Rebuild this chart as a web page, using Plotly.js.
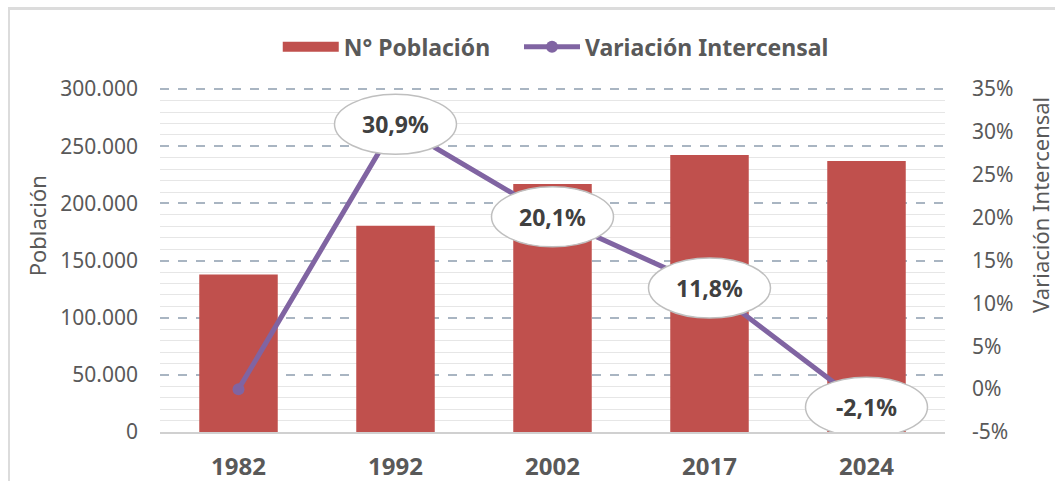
<!DOCTYPE html>
<html>
<head>
<meta charset="utf-8">
<script src="https://cdn.plot.ly/plotly-3.0.1.min.js"></script>
<style>
  html, body { margin: 0; padding: 0; background: #fff; }
  #wrap { position: relative; width: 1055px; height: 481px; overflow: hidden; }
  #frame { position: absolute; top: 7px; left: 8px; width: 1100px; height: 500px;
           border-top: 3px solid #dcdcdc; border-left: 2px solid #dcdcdc; pointer-events: none; }
</style>
</head>
<body>
<div id="wrap">
  <div id="plot" style="width:1055px;height:481px;"></div>
  <div id="frame"></div>
</div>
<script>
// census years
var years = ["1982", "1992", "2002", "2017", "2024"];
// population per census
var poblacion = [137800, 180500, 217100, 242400, 237200];
// intercensal variation (%)
var variacion = [0, 30.9, 20.1, 11.8, -2.1];
// which points get a label bubble
var labelIdx = [1, 2, 3, 4];
// right axis ticks (plain hyphen for the negative one, as in the original)
var pctTicks = [-5, 0, 5, 10, 15, 20, 25, 30, 35];
var pctTickText = pctTicks.map(function (v) { return v + "%"; });

var red = "#c0504d";
var purple = "#8064a2";
var grey = "#595959";

var barTrace = {
  type: "bar",
  x: years,
  y: poblacion,
  name: "N° Población",
  marker: { color: red },
  showlegend: false,
  hoverinfo: "x+y"
};

// legend-only entry so the swatch is a wide rectangle like the original
// (trailing nbsp widen the gap to the next legend item)
var barLegend = {
  type: "scatter",
  mode: "lines",
  x: [null],
  y: [null],
  name: "N° Población\u00a0\u00a0\u00a0\u00a0",
  line: { color: red, width: 14 },
  hoverinfo: "skip"
};

var lineTrace = {
  type: "scatter",
  mode: "lines+markers",
  x: years,
  y: variacion,
  yaxis: "y2",
  name: "Variación Intercensal",
  line: { color: purple, width: 5 },
  marker: { color: purple, size: 12 }
};

var shapes = [];
var annotations = [];
labelIdx.forEach(function (i) {
  shapes.push({
    type: "circle",
    xref: "x", yref: "y2",
    xsizemode: "pixel", ysizemode: "pixel",
    xanchor: i, yanchor: variacion[i],
    x0: -61, x1: 61, y0: -30, y1: 30,
    fillcolor: "#ffffff",
    line: { color: "#bfbfbf", width: 1.5 },
    layer: "above"
  });
  annotations.push({
    x: i, y: variacion[i], xref: "x", yref: "y2",
    text: variacion[i].toFixed(1).replace(".", ",") + "%",
    showarrow: false,
    font: { family: "Noto Sans", size: 23, color: "#404040", weight: "bold" }
  });
});

annotations.push({
  text: "Población", xref: "paper", yref: "paper",
  x: -0.157, y: 0.6, xanchor: "center", yanchor: "middle",
  textangle: -90, showarrow: false,
  font: { family: "Noto Sans", size: 22, color: grey }
});
annotations.push({
  text: "Variación Intercensal", xref: "paper", yref: "paper",
  x: 1.121, y: 0.66, xanchor: "center", yanchor: "middle",
  textangle: -90, showarrow: false,
  font: { family: "Noto Sans", size: 22, color: grey }
});

var layout = {
  width: 1055,
  height: 481,
  margin: { l: 160, r: 110, t: 88, b: 49 },
  paper_bgcolor: "#ffffff",
  plot_bgcolor: "#ffffff",
  separators: ",.",
  bargap: 0.5,
  font: { family: "Noto Sans", color: grey },
  showlegend: true,
  legend: {
    orientation: "h",
    x: 0.15, xanchor: "left",
    y: 1.12, yanchor: "middle",
    itemwidth: 56,
    font: { family: "Noto Sans", size: 23, color: grey, weight: "bold" },
    traceorder: "normal"
  },
  xaxis: {
    type: "category",
    showgrid: false,
    showline: true,
    linecolor: "#d0d0d0",
    linewidth: 2,
    ticks: "",
    ticklabelstandoff: 12,
    tickfont: { family: "Noto Sans", size: 24, color: grey, weight: "bold" }
  },
  yaxis: {
    range: [0, 301000],
    dtick: 50000,
    tickformat: ",d",
    showgrid: true,
    gridcolor: "#a9b5c2",
    gridwidth: 1.5,
    griddash: "dash",
    zeroline: false,
    ticks: "",
    ticklabelstandoff: 21,
    tickfont: { family: "Noto Sans", size: 21, color: grey },
    minor: { dtick: 10000, showgrid: true, gridcolor: "#e6e6e6", gridwidth: 1, griddash: "solid" }
  },
  yaxis2: {
    range: [-5, 35.1333],
    tickmode: "array",
    tickvals: pctTicks,
    ticktext: pctTickText,
    overlaying: "y",
    side: "right",
    showgrid: false,
    zeroline: false,
    ticks: "",
    ticklabelstandoff: 26,
    tickfont: { family: "Noto Sans", size: 21, color: grey }
  },
  shapes: shapes,
  annotations: annotations
};

Plotly.newPlot("plot", [barTrace, barLegend, lineTrace], layout, { displayModeBar: false });
</script>
</body>
</html>
